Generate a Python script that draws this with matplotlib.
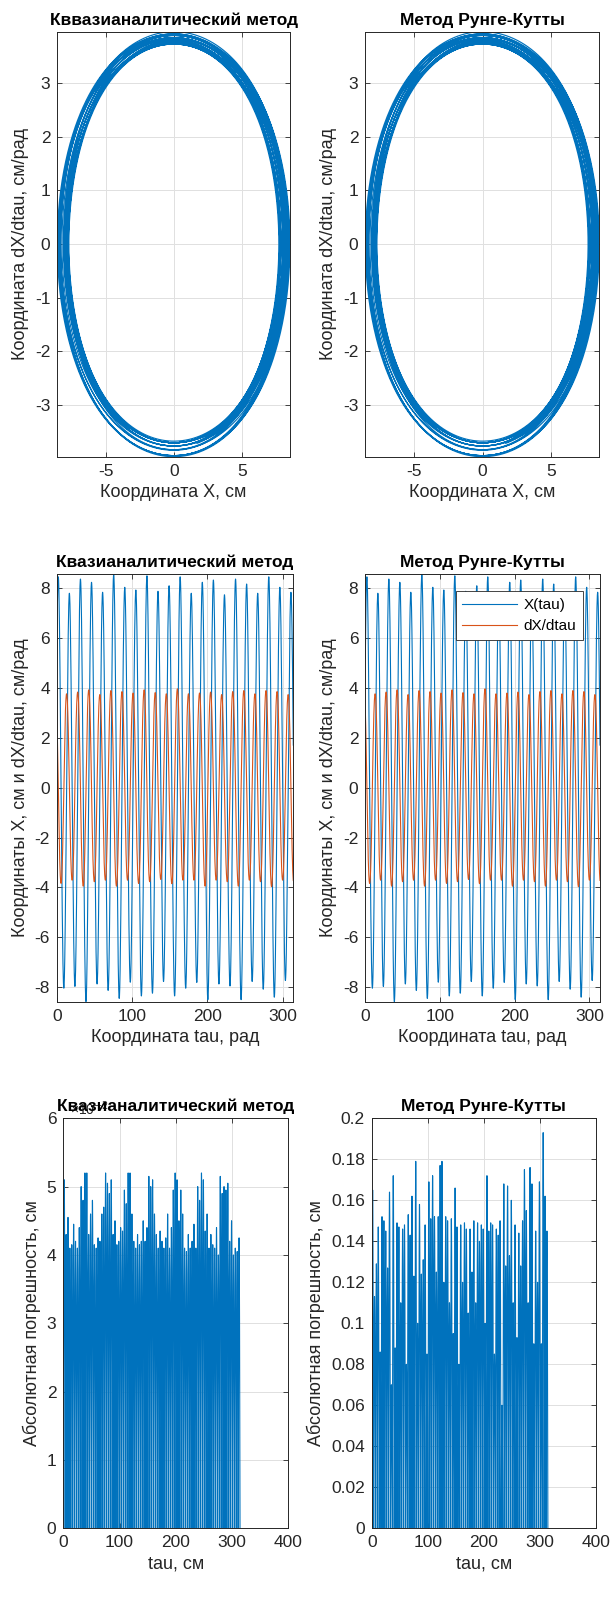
import numpy as np
import matplotlib.pyplot as plt
from matplotlib.ticker import FuncFormatter, MultipleLocator

plt.rcParams['font.family'] = ['Liberation Sans', 'DejaVu Sans']
plt.rcParams['axes.unicode_minus'] = False

# time span and oscillation timing
tau_end = 100 * np.pi
tau_first_peak = 2.1
period = 14.71
# cubic stiffness of the spring (x'' + x + eps*x^3 = 0), sets the waveform shape
eps = 0.3

# successive maxima / minima of X(tau), cm
x_peaks = [8.45, 7.79, 8.36, 8.23, 7.83, 8.55, 8.03, 7.92, 8.49, 7.87, 8.09,
           8.45, 7.79, 8.23, 8.32, 7.73, 8.36, 8.16, 7.79, 8.45, 8.03, 7.83]
x_troughs = [-8.04, -7.97, -8.58, -7.87, -8.13, -8.45, -7.80, -8.35, -8.24, -7.77, -8.35,
             -8.04, -7.81, -8.50, -7.87, -7.95, -8.50, -7.77, -8.08, -8.40, -7.73]

# successive maxima / minima of dX/dtau, cm/rad
v_peaks = [3.85, 3.76, 3.83, 3.92, 3.73, 3.89, 3.85, 3.79, 3.92, 3.81, 3.76,
           3.96, 3.76, 3.79, 3.83, 3.73, 3.85, 3.89, 3.76, 3.89, 3.85, 3.73]
v_troughs = [-3.84, -3.71, -3.95, -3.77, -3.71, -3.95, -3.71, -3.84, -3.77, -3.68, -3.85,
             -3.71, -3.71, -3.95, -3.71, -3.77, -3.95, -3.71, -3.77, -3.97, -3.71, -3.80]

# peak absolute error of the quasi-analytical solution, cm
err_quasi = [0.051, 0.043, 0.0455, 0.041, 0.0415, 0.0445, 0.042, 0.041, 0.044, 0.050,
             0.048, 0.052, 0.052, 0.043, 0.046, 0.048, 0.0415, 0.041, 0.0425, 0.042,
             0.046, 0.047, 0.052, 0.0505, 0.049, 0.051, 0.043, 0.045, 0.0415, 0.042,
             0.044, 0.0435, 0.0495, 0.0475, 0.052, 0.052, 0.046, 0.042, 0.041, 0.043,
             0.0415, 0.042, 0.045, 0.042, 0.044, 0.0515, 0.050, 0.051, 0.046, 0.043,
             0.041, 0.0435, 0.042, 0.041, 0.0425, 0.046, 0.041, 0.044, 0.0495, 0.052,
             0.051, 0.045, 0.0495, 0.046, 0.041, 0.0405, 0.043, 0.041, 0.042, 0.0445,
             0.041, 0.050, 0.048, 0.052, 0.051, 0.0435, 0.046, 0.041, 0.043, 0.0415,
             0.041, 0.044, 0.040, 0.0515, 0.049, 0.050, 0.0495, 0.0505, 0.042, 0.045,
             0.040, 0.041, 0.0405, 0.0425]

# peak absolute error of the Runge-Kutta solution, cm
err_rk = [0.165, 0.113, 0.129, 0.147, 0.086, 0.152, 0.150, 0.145, 0.127, 0.164,
          0.070, 0.172, 0.088, 0.149, 0.147, 0.110, 0.146, 0.148, 0.080, 0.153,
          0.143, 0.162, 0.123, 0.179, 0.100, 0.158, 0.124, 0.131, 0.148, 0.085,
          0.169, 0.151, 0.172, 0.152, 0.125, 0.152, 0.177, 0.179, 0.120, 0.152,
          0.150, 0.110, 0.151, 0.095, 0.166, 0.147, 0.080, 0.148, 0.120, 0.149,
          0.146, 0.105, 0.146, 0.125, 0.150, 0.110, 0.149, 0.140, 0.148, 0.146,
          0.100, 0.172, 0.145, 0.149, 0.148, 0.085, 0.146, 0.143, 0.150, 0.060,
          0.168, 0.128, 0.167, 0.133, 0.160, 0.110, 0.148, 0.093, 0.144, 0.128,
          0.150, 0.175, 0.155, 0.110, 0.176, 0.168, 0.090, 0.145, 0.120, 0.169,
          0.090, 0.193, 0.162, 0.145]

BLUE = '#0072BD'
ORANGE = '#D95319'
DARK = '#262626'
FS = 12.5


def rk4_step(s, h):
    f = lambda q: np.array([q[1], -(q[0] + eps * q[0] ** 3)])
    k1 = f(s)
    k2 = f(s + h / 2 * k1)
    k3 = f(s + h / 2 * k2)
    k4 = f(s + h * k3)
    return s + h / 6 * (k1 + 2 * k2 + 2 * k3 + k4)


def duffing_shape(n=4000):
    # quarter period: time for x to fall from 1 to 0
    h, t, s = 1e-3, 0.0, np.array([1.0, 0.0])
    while s[0] > 0:
        s_prev, s = s, rk4_step(s, h)
        t += h
    t_q = t - h * s[0] / (s[0] - s_prev[0])
    step = 4 * t_q / n
    xs, vs = np.empty(n), np.empty(n)
    s = np.array([1.0, 0.0])
    for i in range(n):
        xs[i], vs[i] = s
        s = rk4_step(s, step)
    return xs, vs / np.sqrt(1 + eps / 2)


def interleave(pos, neg):
    out = []
    for i in range(max(len(pos), len(neg))):
        if i < len(pos):
            out.append(pos[i])
        if i < len(neg):
            out.append(neg[i])
    return np.abs(np.array(out))


def oscillation(tau):
    # each half-swing keeps its own amplitude, switched where the signal crosses zero
    xs, vs = duffing_shape()
    n = len(xs)
    phi = 2 * np.pi * (tau - tau_first_peak) / period
    idx = np.round(np.mod(phi, 2 * np.pi) / (2 * np.pi) * n).astype(int) % n
    amp_x = interleave(x_peaks, x_troughs)
    k = np.clip(np.round(phi / np.pi).astype(int), 0, len(amp_x) - 1)
    amp_v = interleave(v_peaks, v_troughs)
    j = np.clip(np.round(phi / np.pi + 0.5).astype(int), 0, len(amp_v) - 1)
    return amp_x[k] * xs[idx], amp_v[j] * vs[idx]


def error_curve(heights, t_end, n_per=24):
    n = len(heights)
    width = t_end / n
    t = np.linspace(0, t_end, n * n_per + 1)
    idx = np.minimum((t / width).astype(int), n - 1)
    return t, np.asarray(heights)[idx] * np.abs(np.sin(np.pi * t / width))


def style(ax):
    ax.set_axisbelow(True)
    ax.grid(True, color='#e0e0e0', lw=0.7)
    for s in ax.spines.values():
        s.set_color(DARK)
        s.set_linewidth(0.7)
    ax.tick_params(direction='in', top=True, right=True, length=3.5,
                   width=0.6, colors=DARK, labelsize=FS, pad=5)


def place(x0, x1, y0, y1):
    W, H = 612, 1602
    return [x0 / W, 1 - y1 / H, (x1 - x0) / W, (y1 - y0) / H]


tau = np.linspace(0, tau_end, 12000)
X, dX = oscillation(tau)

fig = plt.figure(figsize=(6.12, 16.02), dpi=100)

titles = ['Кввазианалитический метод', 'Метод Рунге-Кутты']
cols = [(57.3, 290.0), (365.3, 599.3)]

# phase portraits
for (x0, x1), title in zip(cols, titles):
    ax = fig.add_axes(place(x0, x1, 31.7, 456.7))
    ax.plot(X, dX, color=BLUE, lw=0.85)
    ax.set_xlim(X.min(), X.max())
    ax.set_ylim(dX.min(), dX.max())
    ax.set_xticks([-5, 0, 5])
    ax.set_yticks([-3, -2, -1, 0, 1, 2, 3])
    style(ax)
    ax.set_title(title, fontsize=FS, fontweight='bold', pad=5)
    ax.set_xlabel('Координата X, см', fontsize=13, color=DARK)
    ax.set_ylabel('Координата dX/dtau, см/рад', fontsize=13, color=DARK)

# time histories
titles = ['Квазианалитический метод', 'Метод Рунге-Кутты']
cols = [(56.7, 293.3), (365.3, 600.0)]
for n, ((x0, x1), title) in enumerate(zip(cols, titles)):
    ax = fig.add_axes(place(x0, x1, 574.3, 1001.7))
    ax.plot(tau, X, color=BLUE, lw=0.8, label='X(tau)')
    ax.plot(tau, dX, color=ORANGE, lw=0.8, label='dX/dtau')
    ax.set_xlim(0, tau_end)
    ax.set_ylim(X.min(), X.max())
    ax.set_xticks([0, 100, 200, 300])
    ax.set_yticks(np.arange(-8, 9, 2))
    style(ax)
    ax.set_title(title, fontsize=FS, fontweight='bold', pad=5)
    ax.set_xlabel('Координата tau, рад', fontsize=13, color=DARK)
    ax.set_ylabel('Координаты X, см и dX/dtau, см/рад', fontsize=13, color=DARK)
    if n == 1:
        leg = ax.legend(loc='upper right', fontsize=11, fancybox=False,
                        framealpha=1, edgecolor=DARK, borderaxespad=1.1,
                        handlelength=3.6, borderpad=0.45, labelspacing=0.45,
                        handletextpad=0.4)
        leg.get_frame().set_linewidth(0.6)

# absolute errors
g = lambda v, p: '%g' % round(v, 4)
cols = [(63.3, 288.3), (371.7, 596.0)]
for n, ((x0, x1), title, err) in enumerate(zip(cols, titles, [err_quasi, err_rk])):
    ax = fig.add_axes(place(x0, x1, 1118.3, 1528.3))
    t, e = error_curve(err, tau_end)
    ax.plot(t, e, color=BLUE, lw=0.8)
    ax.set_xlim(0, 400)
    ax.set_xticks([0, 100, 200, 300, 400])
    style(ax)
    if n == 0:
        ax.set_ylim(0, 0.06)
        ax.yaxis.set_major_locator(MultipleLocator(0.01))
        ax.yaxis.set_major_formatter(FuncFormatter(lambda v, p: '%g' % round(v * 100, 4)))
        ax.text(0.03, 1.0, '×10$^{-2}$', transform=ax.transAxes, fontsize=10,
                color=DARK, ha='left', va='bottom')
    else:
        ax.set_ylim(0, 0.2)
        ax.yaxis.set_major_locator(MultipleLocator(0.02))
        ax.yaxis.set_major_formatter(FuncFormatter(g))
    ax.set_title(title, fontsize=FS, fontweight='bold', pad=5)
    ax.set_xlabel('tau, см', fontsize=13, color=DARK)
    ax.set_ylabel('Абсолютная погрешность, см', fontsize=13, color=DARK)

fig.savefig('out.png', dpi=100)
